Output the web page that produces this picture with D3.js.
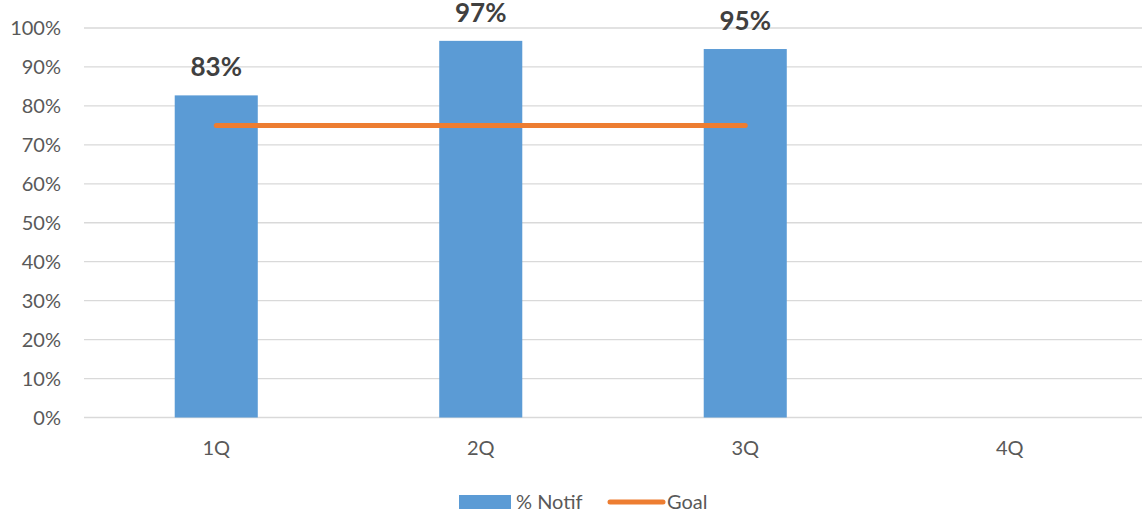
<!DOCTYPE html>
<html>
<head>
<meta charset="utf-8">
<script src="https://cdn.jsdelivr.net/npm/d3@7"></script>
<style>
  body { margin: 0; background: #fff; }
  svg { display: block; font-family: Lato, "Open Sans", sans-serif; }
</style>
</head>
<body>
<div id="chart"></div>
<script>
// data
var quarters = ['1Q', '2Q', '3Q', '4Q'];
var notif = [0.827, 0.967, 0.946, null];
var goal = [0.75, 0.75, 0.75, null];
var yTicks = [0, 0.1, 0.2, 0.3, 0.4, 0.5, 0.6, 0.7, 0.8, 0.9, 1.0];
var legendItems = ['% Notif', 'Goal'];

var width = 1143, height = 529;
var plotLeft = 84, plotRight = 1142, plotTop = 28, plotBottom = 417.5;

var svg = d3.select('#chart').append('svg')
    .attr('width', width)
    .attr('height', height);

var x = d3.scaleBand()
    .domain(quarters)
    .range([plotLeft, plotRight])
    .paddingInner(0.686)
    .paddingOuter(0.343);

var y = d3.scaleLinear()
    .domain([0, 1])
    .range([plotBottom, plotTop]);

// gridlines
svg.append('g').selectAll('line')
    .data(yTicks)
  .enter().append('line')
    .attr('x1', plotLeft).attr('x2', plotRight)
    .attr('y1', function(d){ return y(d); })
    .attr('y2', function(d){ return y(d); })
    .attr('stroke', '#d9d9d9')
    .attr('stroke-width', 1.3);

// y labels
svg.append('g').selectAll('text')
    .data(yTicks)
  .enter().append('text')
    .attr('x', 61)
    .attr('y', function(d){ return y(d) + 7; })
    .attr('text-anchor', 'end')
    .attr('fill', '#595959')
    .style('font-size', '20px')
    .text(d3.format('.0%'));

// x labels
svg.append('g').selectAll('text')
    .data(quarters)
  .enter().append('text')
    .attr('x', function(d){ return x(d) + x.bandwidth() / 2; })
    .attr('y', 455)
    .attr('text-anchor', 'middle')
    .attr('fill', '#595959')
    .style('font-size', '20px')
    .text(function(d){ return d; });

// bars
var barData = quarters.map(function(q, i){ return {q: q, v: notif[i]}; })
    .filter(function(d){ return d.v != null; });

svg.append('g').selectAll('rect')
    .data(barData)
  .enter().append('rect')
    .attr('x', function(d){ return x(d.q); })
    .attr('width', x.bandwidth())
    .attr('y', function(d){ return y(d.v); })
    .attr('height', function(d){ return y(0) - y(d.v); })
    .attr('fill', '#5b9bd5');

// bar labels
svg.append('g').selectAll('text')
    .data(barData)
  .enter().append('text')
    .attr('x', function(d){ return x(d.q) + x.bandwidth() / 2; })
    .attr('y', function(d){ return y(d.v) - 19; })
    .attr('text-anchor', 'middle')
    .attr('fill', '#404040')
    .style('font-size', '26px')
    .style('font-weight', 'bold')
    .text(function(d){ return d3.format('.0%')(d.v); });

// goal line
var goalData = quarters.map(function(q, i){ return {q: q, v: goal[i]}; })
    .filter(function(d){ return d.v != null; });

var line = d3.line()
    .x(function(d){ return x(d.q) + x.bandwidth() / 2; })
    .y(function(d){ return y(d.v); });

svg.append('path')
    .datum(goalData)
    .attr('d', line)
    .attr('fill', 'none')
    .attr('stroke', '#ed7d31')
    .attr('stroke-width', 5)
    .attr('stroke-linecap', 'round');

// legend
var lg = svg.append('g');
lg.append('rect')
    .attr('x', 459).attr('y', 495)
    .attr('width', 52).attr('height', 14)
    .attr('fill', '#5b9bd5');
lg.append('text')
    .attr('x', 516).attr('y', 509)
    .attr('fill', '#595959')
    .style('font-size', '20px')
    .text(legendItems[0]);
lg.append('line')
    .attr('x1', 610).attr('x2', 663)
    .attr('y1', 502).attr('y2', 502)
    .attr('stroke', '#ed7d31')
    .attr('stroke-width', 5)
    .attr('stroke-linecap', 'round');
lg.append('text')
    .attr('x', 667).attr('y', 509)
    .attr('fill', '#595959')
    .style('font-size', '20px')
    .text(legendItems[1]);
</script>
</body>
</html>
